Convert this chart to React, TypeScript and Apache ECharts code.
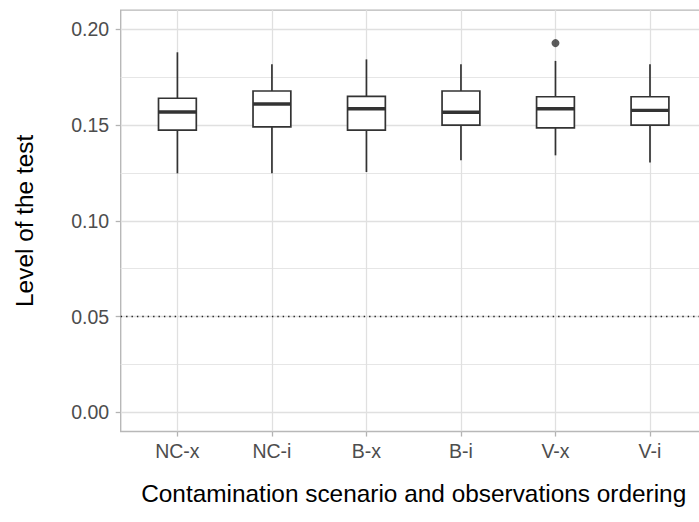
import React, { useEffect, useRef } from "react";
import * as echarts from "echarts";

// ---- data ----
const categories = ["NC-x", "NC-i", "B-x", "B-i", "V-x", "V-i"];
const lowerWhisker = [0.1248, 0.1248, 0.1255, 0.1316, 0.1342, 0.1305];
const q1Values = [0.1474, 0.1491, 0.1474, 0.15, 0.1485, 0.15];
const medianValues = [0.1568, 0.161, 0.1585, 0.1567, 0.1585, 0.1577];
const q3Values = [0.164, 0.1678, 0.165, 0.1678, 0.1648, 0.1648];
const upperWhisker = [0.188, 0.1817, 0.1843, 0.1817, 0.1835, 0.1817];
const outlierCategories = ["V-x"];
const outlierValues = [0.1928];
const yMajorTicks = [0, 0.05, 0.1, 0.15, 0.2];
const yMinorTicks = [0.025, 0.075, 0.125, 0.175];
const referenceLevel = [0.05];
const yRange = [-0.01, 0.21];

const FONT = "'Liberation Sans', Arial, sans-serif";
const BOX_COLOR = "#333333";
const BOX_WIDTH = 0.4; // in category units

export default function App() {
  const ref = useRef<HTMLDivElement>(null);

  useEffect(() => {
    if (!ref.current) return;
    const chart = echarts.init(ref.current, null, { renderer: "svg" });

    const boxData = categories.map((_, i) => [
      i,
      lowerWhisker[i],
      q1Values[i],
      medianValues[i],
      q3Values[i],
      upperWhisker[i],
    ]);
    const outlierData = outlierCategories.map((c, i) => [
      categories.indexOf(c),
      outlierValues[i],
    ]);
    const xTicks = categories.map((_, i) => i);

    const option: any = {
      animation: false,
      backgroundColor: "#ffffff",
      grid: {
        left: 120.7,
        top: 10.15,
        width: 586,
        height: 421.4,
        show: true,
        borderColor: "#b8b8b8",
        borderWidth: 1.4,
        backgroundColor: "transparent",
        containLabel: false,
        outerBoundsMode: "none",
      },
      xAxis: {
        type: "value",
        position: "bottom",
        min: -0.6,
        max: categories.length - 0.4,
        axisLine: { show: false, onZero: false },
        axisTick: {
          show: true,
          customValues: xTicks,
          length: 5,
          lineStyle: { color: "#b3b3b3", width: 1.3 },
        },
        axisLabel: {
          customValues: xTicks,
          formatter: (v: number) => categories[Math.round(v)] ?? "",
          color: "#4d4d4d",
          fontSize: 19.5,
          fontFamily: FONT,
          margin: 9,
        },
        splitLine: { show: true, lineStyle: { color: "#e0e0e0", width: 1.3 } },
        name: "Contamination scenario and observations ordering",
        nameLocation: "middle",
        nameGap: 50,
        nameTextStyle: { color: "#000000", fontSize: 24.4, fontFamily: FONT },
      },
      yAxis: [
        {
          type: "value",
          position: "left",
          min: yRange[0],
          max: yRange[1],
          axisLine: { show: false, onZero: false },
          axisTick: {
            show: true,
            customValues: yMajorTicks,
            length: 5,
            lineStyle: { color: "#b3b3b3", width: 1.3 },
          },
          axisLabel: {
            customValues: yMajorTicks,
            formatter: (v: number) => v.toFixed(2),
            color: "#4d4d4d",
            fontSize: 19.5,
            fontFamily: FONT,
            margin: 11.5,
          },
          splitLine: { show: true, lineStyle: { color: "#e0e0e0", width: 1.3 } },
          name: "Level of the test",
          nameLocation: "middle",
          nameGap: 84,
          nameTextStyle: { color: "#000000", fontSize: 24.4, fontFamily: FONT },
        },
        {
          type: "value",
          position: "left",
          min: yRange[0],
          max: yRange[1],
          axisLine: { show: false, onZero: false },
          axisTick: { show: false, customValues: yMinorTicks },
          axisLabel: { show: false, customValues: yMinorTicks },
          splitLine: { show: true, lineStyle: { color: "#e6e6e6", width: 1 } },
        },
      ],
      series: [
        {
          type: "custom",
          name: "box",
          xAxisIndex: 0,
          yAxisIndex: 0,
          data: boxData,
          encode: { x: 0, y: [1, 2, 3, 4, 5] },
          renderItem: (params: any, api: any) => {
            const x = api.value(0);
            const lo = api.coord([x, api.value(1)]);
            const p1 = api.coord([x, api.value(2)]);
            const pm = api.coord([x, api.value(3)]);
            const p3 = api.coord([x, api.value(4)]);
            const hi = api.coord([x, api.value(5)]);
            const hw = api.size([BOX_WIDTH, 0])[0] / 2;
            const lineStyle = { stroke: BOX_COLOR, lineWidth: 1.7, fill: "none" };
            return {
              type: "group",
              children: [
                {
                  type: "line",
                  shape: { x1: lo[0], y1: lo[1], x2: p1[0], y2: p1[1] },
                  style: lineStyle,
                },
                {
                  type: "line",
                  shape: { x1: p3[0], y1: p3[1], x2: hi[0], y2: hi[1] },
                  style: lineStyle,
                },
                {
                  type: "rect",
                  shape: {
                    x: p3[0] - hw,
                    y: p3[1],
                    width: 2 * hw,
                    height: p1[1] - p3[1],
                  },
                  style: { fill: "#ffffff", stroke: BOX_COLOR, lineWidth: 1.7 },
                },
                {
                  type: "line",
                  shape: { x1: pm[0] - hw, y1: pm[1], x2: pm[0] + hw, y2: pm[1] },
                  style: { stroke: BOX_COLOR, lineWidth: 3.4 },
                },
              ],
            };
          },
        },
        {
          type: "scatter",
          name: "outliers",
          xAxisIndex: 0,
          yAxisIndex: 0,
          data: outlierData,
          symbol: "circle",
          symbolSize: 8,
          itemStyle: { color: BOX_COLOR },
          markLine: {
            silent: true,
            symbol: ["none", "none"],
            label: { show: false },
            lineStyle: { color: "#222222", width: 1.3, type: [1.4, 4] },
            data: referenceLevel.map((v) => ({ yAxis: v })),
          },
        },
      ],
    };

    chart.setOption(option);
    return () => chart.dispose();
  }, []);

  return (
    <div
      ref={ref}
      style={{ position: "fixed", left: 0, top: 0, width: 699, height: 522 }}
    />
  );
}
